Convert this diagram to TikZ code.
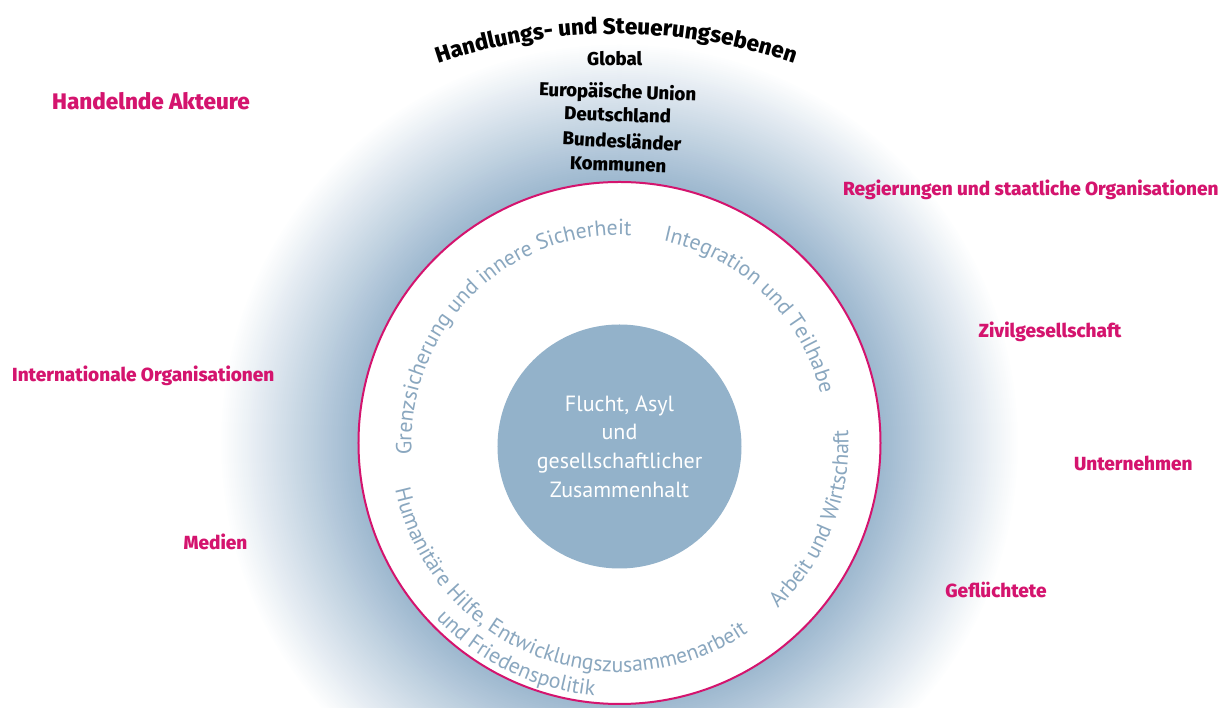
\documentclass[tikz,border=0pt]{standalone}
\usepackage{fontspec}
\setmainfont{Fira Sans}[BoldFont={Fira Sans ExtraBold}]
\newfontfamily\ptsans{PT Sans}
\usetikzlibrary{decorations.text}

\definecolor{haloblue}{HTML}{9DB8CF}
\definecolor{coreblue}{HTML}{93B2CA}
\definecolor{akteurpink}{HTML}{D4146E}
\definecolor{ringblue}{HTML}{8AA7BF}

\newcommand{\ringfont}{\ptsans\fontsize{21.8}{25}\selectfont}

\begin{document}
\begin{tikzpicture}[x=1pt, y=1pt,
    akteur/.style={text=akteurpink, font=\bfseries\fontsize{19}{23}\selectfont, anchor=base},
    ebene/.style={font=\bfseries\fontsize{18.6}{22}\selectfont, anchor=base, rotate=-2},
    ringtext/.style={decorate, decoration={text along path, text align=center,
        text color=ringblue, text={|\ringfont|#1}}}]
    % Define the ring and the halo
    \def\ringR{261}
    \clip (-619.5,-265) rectangle (603.5,443);

    % Halo fading out from the ring
    \foreach \k in {0,...,69} {
        \pgfmathsetmacro\rad{400-2*\k}
        \pgfmathsetmacro\pct{100*\k/69}
        \fill[haloblue!\pct!white] (0,0) circle (\rad);
    }

    % Ring and core
    \fill[white] (0,0) circle (\ringR);
    \draw[akteurpink, line width=2pt] (0,0) circle (\ringR);
    \node[circle, fill=coreblue, minimum size=244pt, inner sep=0pt, text=white, align=center,
        font=\ptsans\fontsize{22}{28.6}\selectfont] (kern) at (0,-3.5)
        {Flucht, Asyl\\und\\gesellschaftlicher\\Zusammenhalt};

    % Policy fields along the ring
    \path[ringtext={Grenzsicherung und innere Sicherheit}] (215:208) arc[start angle=215, end angle=55, radius=208];
    \path[ringtext={Integration und Teilhabe}] (115.75:207) arc[start angle=115.75, end angle=-24.25, radius=207];
    \path[ringtext={Arbeit und Wirtschaft}] (-91.5:229) arc[start angle=-91.5, end angle=48.5, radius=229];
    \path[ringtext={Humanitäre Hilfe{,} Entwicklungszusammenarbeit}] (158:229) arc[start angle=158, end angle=338, radius=229];
    \path[ringtext={und Friedenspolitik}] (174:254) arc[start angle=174, end angle=314, radius=254];

    % Levels of action
    \path[decorate, decoration={text along path, text align=center,
        text={|\bfseries\fontsize{22.4}{26}\selectfont|Handlungs- und Steuerungsebenen}}]
        (-3.5,-146) ++(125:555) arc[start angle=125, end angle=55, radius=555];
    \node[ebene, rotate=2] (global) at (-4.8,377) {Global};
    \node[ebene] (eu) at (-2,344.5) {Europäische Union};
    \node[ebene] (de) at (-2,321.5) {Deutschland};
    \node[ebene, rotate=-1] (laender) at (2.2,295) {Bundesländer};
    \node[ebene] (kommunen) at (-1.5,272) {Kommunen};

    % Actors
    \node[akteur, font=\bfseries\fontsize{22.5}{26}\selectfont] (akteure) at (-468.5,333.7) {Handelnde Akteure};
    \node[akteur] (intorg) at (-476.2,61.3) {Internationale Organisationen};
    \node[akteur] (medien) at (-404,-107) {Medien};
    \node[akteur] (regierung) at (411.3,247) {Regierungen und staatliche Organisationen};
    \node[akteur] (zivil) at (430.5,105) {Zivilgesellschaft};
    \node[akteur] (firmen) at (513.8,-28) {Unternehmen};
    \node[akteur] (gefluechtete) at (376.5,-154.7) {Geflüchtete};
\end{tikzpicture}
\end{document}
